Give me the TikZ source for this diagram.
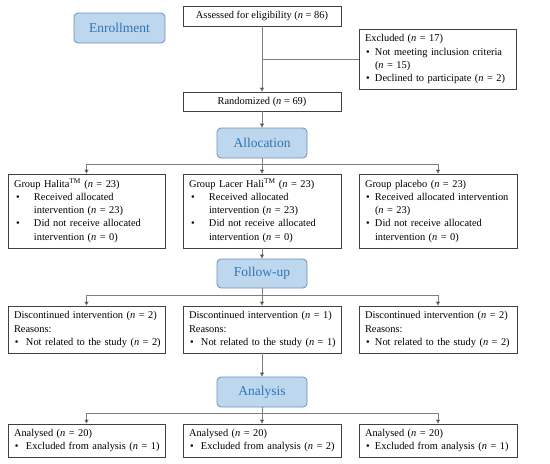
\documentclass[tikz,border=0pt]{standalone}
\usepackage{fontspec}
\setmainfont{Liberation Serif}
\usetikzlibrary{arrows.meta}
\definecolor{hfill}{HTML}{BDD7EE}
\definecolor{hdraw}{HTML}{6F8FB5}
\definecolor{htext}{HTML}{2E75B6}
\definecolor{lgrey}{HTML}{7F7F7F}
\definecolor{bgrey}{HTML}{404040}
\newcommand{\nn}{\textit{n}}
\newcommand{\bt}[1]{\hspace{#1}\textbullet}
\tikzset{
  box/.style={draw=bgrey, line width=0.7pt, fill=white, inner xsep=6pt, inner ysep=2pt,
    font=\fontsize{10.4}{13.3}\selectfont, align=left},
  cbox/.style={draw=bgrey, line width=0.7pt, fill=white, inner sep=2pt,
    font=\fontsize{10.4}{13.3}\selectfont, align=center},
  hdr/.style={draw=hdraw, line width=0.8pt, fill=hfill, rounded corners=4pt,
    text=htext, font=\fontsize{13.5}{15}\selectfont, minimum width=90pt, minimum height=30pt},
  conn/.style={draw=lgrey, line width=0.7pt},
  arr/.style={conn, -{Triangle[length=4pt,width=4pt,fill=black]}},
}
\begin{document}
\begin{tikzpicture}[x=1pt,y=-1pt]
\useasboundingbox (0,0) rectangle (550,464);
% headers
\node[hdr, minimum width=91pt] (enroll) at (119.5,28) {Enrollment};
\node[hdr] (alloc) at (262,143) {Allocation};
\node[hdr, minimum height=29pt] (follow) at (262,273.5) {Follow-up};
\node[hdr] (analysis) at (262,392) {Analysis};
% top boxes
\node[cbox, minimum width=158pt, minimum height=20pt] (assess) at (262,16) {Assessed for eligibility (\nn{} = 86)};
\node[cbox, minimum width=158pt, minimum height=19pt] (rand) at (262,101.5) {Randomized (\nn{} = 69)};
\node[box, text width=145pt, minimum height=60pt] (excl) at (437.5,59) {%
\begin{tabular}{@{}p{10pt}@{}l@{}}
\multicolumn{2}{@{}l@{}}{Excluded (\nn{} = 17)}\\
\bt{1pt} & Not meeting inclusion criteria\\
 & (\nn{} = 15)\\
\bt{1pt} & Declined to participate (\nn{} = 2)
\end{tabular}};
% groups
\node[box, text width=145pt, minimum height=74pt] (g1) at (86.5,211) {%
\begin{tabular}{@{}p{20pt}@{}l@{}}
\multicolumn{2}{@{}l@{}}{Group Halita\textsuperscript{TM} (\nn{} = 23)}\\
\bt{2pt} & Received allocated\\
 & intervention (\nn{} = 23)\\
\bt{2pt} & Did not receive allocated\\
 & intervention (\nn{} = 0)
\end{tabular}};
\node[box, text width=146pt, minimum height=74pt] (g2) at (262,211) {%
\begin{tabular}{@{}p{20pt}@{}l@{}}
\multicolumn{2}{@{}l@{}}{Group Lacer Hali\textsuperscript{TM}\ (\nn{} = 23)}\\
\bt{2pt} & Received allocated\\
 & intervention (\nn{} = 23)\\
\bt{2pt} & Did not receive allocated\\
 & intervention (\nn{} = 0)
\end{tabular}};
\node[box, text width=146pt, minimum height=74pt] (g3) at (438,211) {%
\begin{tabular}{@{}p{10pt}@{}l@{}}
\multicolumn{2}{@{}l@{}}{Group placebo (\nn{} = 23)}\\
\bt{1pt} & Received allocated intervention\\
 & (\nn{} = 23)\\
\bt{1pt} & Did not receive allocated\\
 & intervention (\nn{} = 0)
\end{tabular}};
% discontinued
\node[box, text width=145pt, minimum height=47pt] (d1) at (86.5,329.5) {%
\begin{tabular}{@{}p{12pt}@{}l@{}}
\multicolumn{2}{@{}l@{}}{Discontinued intervention (\nn{} = 2)}\\
\multicolumn{2}{@{}l@{}}{Reasons:}\\
\bt{1pt} & Not related to the study (\nn{} = 2)
\end{tabular}};
\node[box, text width=146pt, minimum height=47pt] (d2) at (262,329.5) {%
\begin{tabular}{@{}p{12pt}@{}l@{}}
\multicolumn{2}{@{}l@{}}{Discontinued intervention (\nn{} = 1)}\\
\multicolumn{2}{@{}l@{}}{Reasons:}\\
\bt{1pt} & Not related to the study (\nn{} = 1)
\end{tabular}};
\node[box, text width=146pt, minimum height=47pt] (d3) at (438,329.5) {%
\begin{tabular}{@{}p{10pt}@{}l@{}}
\multicolumn{2}{@{}l@{}}{Discontinued intervention (\nn{} = 2)}\\
\multicolumn{2}{@{}l@{}}{Reasons:}\\
\bt{1pt} & Not related to the study (\nn{} = 2)
\end{tabular}};
% analysed
\node[box, text width=145pt, minimum height=33pt] (a1) at (86.5,440.5) {%
\begin{tabular}{@{}p{12pt}@{}l@{}}
\multicolumn{2}{@{}l@{}}{Analysed (\nn{} = 20)}\\
\bt{1pt} & Excluded from analysis (\nn{} = 1)
\end{tabular}};
\node[box, text width=146pt, minimum height=33pt] (a2) at (262,440.5) {%
\begin{tabular}{@{}p{12pt}@{}l@{}}
\multicolumn{2}{@{}l@{}}{Analysed (\nn{} = 20)}\\
\bt{1pt} & Excluded from analysis (\nn{} = 2)
\end{tabular}};
\node[box, text width=146pt, minimum height=33pt] (a3) at (438,440.5) {%
\begin{tabular}{@{}p{10pt}@{}l@{}}
\multicolumn{2}{@{}l@{}}{Analysed (\nn{} = 20)}\\
\bt{1pt} & Excluded from analysis (\nn{} = 1)
\end{tabular}};
% split coordinates
\coordinate (s1) at (262,164);
\coordinate (s2) at (262,295);
\coordinate (s3) at (262,413);
% connectors
\draw[arr] (assess.south) -- (rand.north);
\draw[conn] (excl.west) -- (excl.west -| assess.south);
\draw[arr] (rand.south) -- (alloc.north);
\draw[conn] (alloc.south) -- (s1);
\draw[arr] (s1) -| (g1.north);
\draw[arr] (s1) -| (g3.north);
\draw[arr] (s1) -- (g2.north);
\draw[arr] (g2.south) -- (follow.north);
\draw[conn] (follow.south) -- (s2);
\draw[arr] (s2) -| (d1.north);
\draw[arr] (s2) -| (d3.north);
\draw[arr] (s2) -- (d2.north);
\draw[arr] (d2.south) -- (analysis.north);
\draw[conn] (analysis.south) -- (s3);
\draw[arr] (s3) -| (a1.north);
\draw[arr] (s3) -| (a3.north);
\draw[arr] (s3) -- (a2.north);
\end{tikzpicture}
\end{document}
